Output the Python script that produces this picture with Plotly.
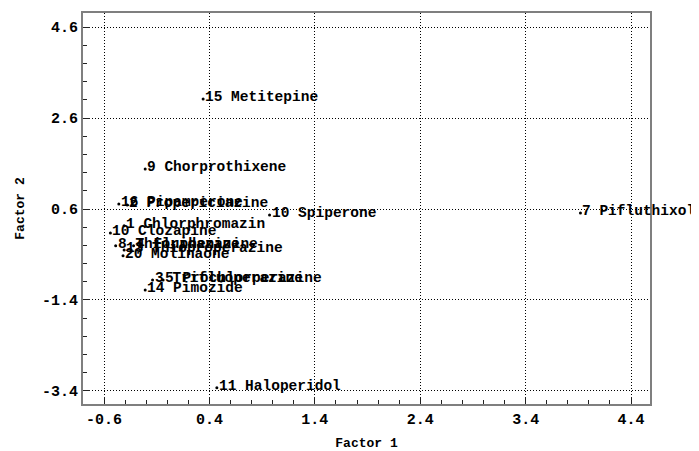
import plotly.graph_objects as go

labels = ["15 Metitepine", "9 Chorprothixene", "16 Pipamperone", "2 Propericiazine",
          "10 Spiperone", "7 Pifluthixol", "1 Chlorphromazin", "10 Clozapine",
          "8 Thioridazine", "4 Fluphenazine", "13 Thioproperazine", "20 Molinaone",
          "3 Trifluoperazine", "5 Prochlorperazine", "14 Pimozide", "11 Haloperidol"]
factor1 = [0.34, -0.21, -0.46, -0.38, 0.97, 3.92, -0.41, -0.54,
           -0.49, -0.32, -0.41, -0.42, -0.14, -0.04, -0.21, 0.47]
factor2 = [3.02, 1.48, 0.71, 0.69, 0.47, 0.51, 0.23, 0.07,
           -0.21, -0.21, -0.30, -0.43, -0.96, -0.96, -1.18, -3.33]

x_ticks = [-0.6, 0.4, 1.4, 2.4, 3.4, 4.4]
x_ticktext = ["-0.6", "0.4", "1.4", "2.4", "3.4", "4.4"]
y_ticks = [-3.4, -1.4, 0.6, 2.6, 4.6]
y_ticktext = ["-3.4", "-1.4", "0.6", "2.6", "4.6"]

FONT = "Liberation Mono"

fig = go.Figure()
fig.add_trace(go.Scatter(
    x=factor1, y=factor2, mode="markers",
    marker=dict(size=3, color="black"),
    cliponaxis=False, showlegend=False, hoverinfo="skip",
))

for lab, xv, yv in zip(labels, factor1, factor2):
    fig.add_annotation(
        x=xv, y=yv, text=lab, showarrow=False,
        xanchor="left", yanchor="bottom", xshift=0, yshift=-8,
        font=dict(family=FONT, size=14.5, color="black", weight="bold"),
    )

axis_common = dict(
    showline=True, linecolor="#7f7f7f", linewidth=2, mirror=True,
    showgrid=True, gridcolor="black", gridwidth=1, griddash="1px,2px",
    zeroline=False, ticks="inside", ticklen=7, tickcolor="#222222", tickwidth=1,
    tickfont=dict(family=FONT, size=15, color="black", weight="bold"),
    automargin=False,
)

fig.update_xaxes(
    range=[-0.8, 4.58], tickvals=x_ticks, ticktext=x_ticktext,
    minor=dict(dtick=0.2, tick0=-0.6, ticks="inside", ticklen=4, tickcolor="#222222", showgrid=False),
    title=dict(text="Factor 1", font=dict(family=FONT, size=13, color="black", weight="bold"), standoff=10),
    **axis_common,
)
fig.update_yaxes(
    range=[-3.686, 4.908], tickvals=y_ticks, ticktext=y_ticktext,
    minor=dict(dtick=0.4, tick0=-3.4, ticks="inside", ticklen=4, tickcolor="#222222", showgrid=False),
    title=dict(text="Factor 2", font=dict(family=FONT, size=13, color="black", weight="bold"), standoff=14),
    **axis_common,
)

fig.update_layout(
    width=691, height=443,
    margin=dict(l=75, r=49, t=5, b=47),
    plot_bgcolor="white", paper_bgcolor="white",
)

fig.write_html("out.html")
